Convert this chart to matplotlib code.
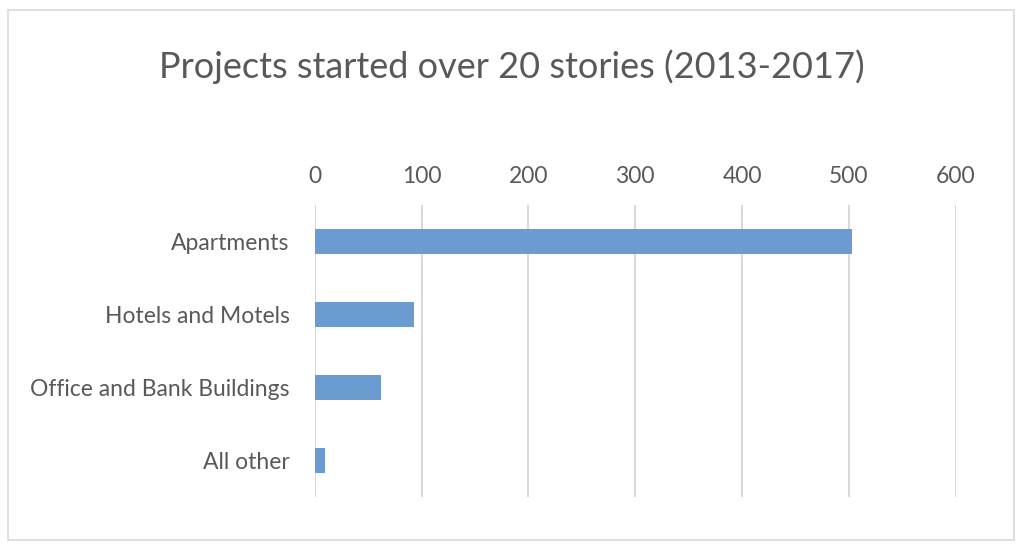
import matplotlib.pyplot as plt
from matplotlib.patches import Rectangle

categories = ['Apartments', 'Hotels and Motels', 'Office and Bank Buildings', 'All other']
projects = [503, 93, 62, 10]
ticks = [0, 100, 200, 300, 400, 500, 600]

plt.rcParams['font.family'] = ['Lato', 'DejaVu Sans']
text_color = '#595959'

fig = plt.figure(figsize=(10.24, 5.52), dpi=100)
fig.patches.append(Rectangle((8 / 1024, 1 - 540 / 552), 1006 / 1024, 530 / 552,
                             transform=fig.transFigure, fill=False,
                             edgecolor='#d9d9d9', linewidth=1.2))

ax = fig.add_axes([0.3073, 0.0996, 0.626, 0.529])
ax.barh(range(len(categories)), projects, height=0.35, color='#6a9bd1')
ax.set_xlim(0, 600)
ax.set_ylim(3.5, -0.5)
ax.set_xticks(ticks)
ax.set_yticks(range(len(categories)))
ax.set_yticklabels(categories)
ax.xaxis.tick_top()
ax.tick_params(axis='x', length=0, pad=13, labelsize=16.5, labelcolor=text_color)
ax.tick_params(axis='y', length=0, pad=18, labelsize=16.5, labelcolor=text_color)
ax.grid(axis='x', color='#d9d9d9', linewidth=1.5)
ax.set_axisbelow(True)
for s in ax.spines.values():
    s.set_visible(False)

fig.text(0.5, 0.88, 'Projects started over 20 stories (2013-2017)',
         ha='center', va='center', fontsize=26, color=text_color)

fig.savefig('out.png', dpi=100)
